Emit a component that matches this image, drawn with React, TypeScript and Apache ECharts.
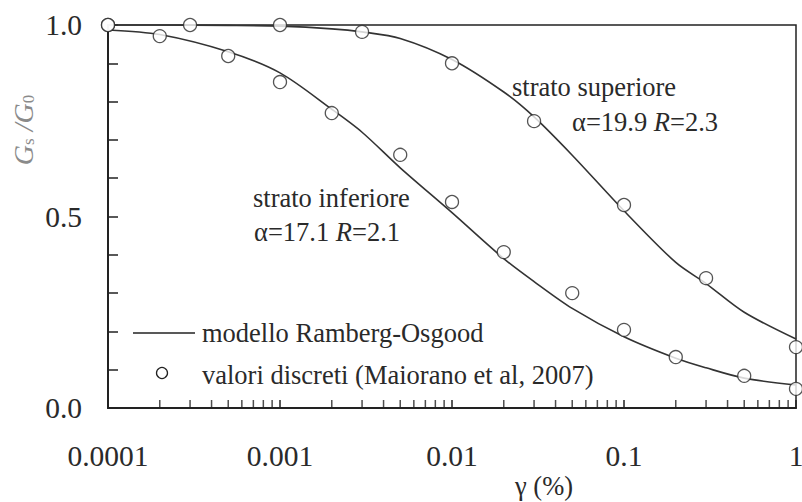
import React, { useEffect, useRef } from "react";
import * as echarts from "echarts";

// Discrete measured values (circles)
const supX = [0.0001, 0.0003, 0.001, 0.003, 0.01, 0.03, 0.1, 0.3, 1];
const supY = [1.0, 1.0, 1.0, 0.982, 0.9, 0.749, 0.53, 0.339, 0.159];
const infX = [0.0001, 0.0002, 0.0005, 0.001, 0.002, 0.005, 0.01, 0.02, 0.05, 0.1, 0.2, 0.5, 1];
const infY = [1.0, 0.971, 0.919, 0.851, 0.77, 0.661, 0.538, 0.407, 0.3, 0.204, 0.133, 0.084, 0.05];

// Ramberg-Osgood model curves
const curveX = [0.0001, 0.0002, 0.0005, 0.001, 0.002, 0.003, 0.005, 0.01, 0.02, 0.03, 0.05, 0.1, 0.2, 0.3, 0.5, 1];
const supCurve = [1.0, 1.0, 0.999, 0.997, 0.99, 0.982, 0.965, 0.91, 0.825, 0.76, 0.66, 0.515, 0.38, 0.325, 0.25, 0.18];
const infCurve = [0.987, 0.975, 0.93, 0.875, 0.78, 0.72, 0.627, 0.51, 0.39, 0.33, 0.26, 0.186, 0.13, 0.105, 0.078, 0.06];

// Axis ticks
const xTickLabels = ["0.0001", "0.001", "0.01", "0.1", "1"];
const xMinorTicks = [
  0.0002, 0.0003, 0.0004, 0.0005, 0.0006, 0.0007, 0.0008, 0.0009,
  0.002, 0.003, 0.004, 0.005, 0.006, 0.007, 0.008, 0.009,
  0.02, 0.03, 0.04, 0.05, 0.06, 0.07, 0.08, 0.09,
  0.2, 0.3, 0.4, 0.5, 0.6, 0.7, 0.8, 0.9,
];

const FONT = "'Liberation Serif', 'Times New Roman', serif";
const INK = "#2a2a2a";

const zip = (xs: number[], ys: number[]) => xs.map((x, i) => [x, ys[i]]);

export default function App() {
  const ref = useRef<HTMLDivElement>(null);
  useEffect(() => {
    if (!ref.current) return;
    const chart = echarts.init(ref.current, undefined, { renderer: "svg" });
    const circle = {
      type: "scatter",
      symbol: "circle",
      symbolSize: 13,
      clip: false,
      itemStyle: { color: "#fff", borderColor: INK, borderWidth: 1.3 },
      z: 3,
    };
    const line = {
      type: "line",
      smooth: 0.3,
      showSymbol: false,
      clip: false,
      lineStyle: { color: "#333", width: 1.6 },
      z: 2,
    };
    const richText = {
      n: { fontFamily: FONT, fontSize: 26.5, fill: INK },
      i: { fontFamily: FONT, fontSize: 26.5, fontStyle: "italic", fill: INK },
    };
    chart.setOption({
      animation: false,
      backgroundColor: "#fff",
      grid: {
        left: 108,
        right: 6,
        top: 25,
        bottom: 94,
        outerBoundsMode: "none",
        containLabel: false,
        show: true,
        borderColor: "#222",
        borderWidth: 1.5,
        backgroundColor: "transparent",
      },
      xAxis: {
        type: "log",
        logBase: 10,
        min: 0.0001,
        max: 1,
        axisLine: { show: true, lineStyle: { color: "#222", width: 2 } },
        axisTick: { show: true, inside: true, length: 8, lineStyle: { color: "#222", width: 1.5 } },
        splitLine: { show: false },
        axisLabel: {
          margin: 33,
          fontFamily: FONT,
          fontSize: 29.5,
          color: INK,
          formatter: (v: number) => xTickLabels[Math.round(Math.log10(v) + 4)] ?? "",
        },
      },
      yAxis: {
        type: "value",
        min: 0,
        max: 1,
        interval: 0.5,
        axisLine: { show: true, lineStyle: { color: "#222", width: 2 } },
        axisTick: { show: true, inside: true, length: 10, lineStyle: { color: "#222", width: 1.5 } },
        minorTick: { show: true, splitNumber: 5, length: 10, lineStyle: { color: "#222", width: 1.5 } },
        splitLine: { show: false },
        axisLabel: {
          margin: 26,
          fontFamily: FONT,
          fontSize: 29.5,
          color: INK,
          formatter: (v: number) => v.toFixed(1),
        },
      },
      graphic: [
        {
          type: "text",
          x: 22,
          y: 130,
          rotation: Math.PI / 2,
          silent: true,
          style: {
            text: "{g|G}{s|s}{g| /}{g|G}{s|0}",
            align: "center",
            verticalAlign: "middle",
            rich: {
              g: { fontFamily: FONT, fontStyle: "italic", fontSize: 28, fill: "#8a8a8a", lineHeight: 30, verticalAlign: "bottom" },
              s: { fontFamily: FONT, fontSize: 17, fill: "#8a8a8a", lineHeight: 30, verticalAlign: "bottom" },
            },
          },
        },
        { type: "text", x: 512, y: 87, style: { text: "strato superiore", font: `26.5px ${FONT}`, fill: INK, verticalAlign: "middle" } },
        { type: "text", x: 572, y: 122, style: { text: "{n|α=19.9 }{i|R}{n|=2.3}", verticalAlign: "middle", rich: richText } },
        { type: "text", x: 253, y: 198, style: { text: "strato inferiore", font: `26.5px ${FONT}`, fill: INK, verticalAlign: "middle" } },
        { type: "text", x: 254, y: 232, style: { text: "{n|α=17.1 }{i|R}{n|=2.1}", verticalAlign: "middle", rich: richText } },
        { type: "line", shape: { x1: 133, y1: 333, x2: 195, y2: 333 }, style: { stroke: "#222", lineWidth: 1.6 } },
        { type: "text", x: 202, y: 333, style: { text: "modello Ramberg-Osgood", font: `26.5px ${FONT}`, fill: INK, verticalAlign: "middle" } },
        { type: "circle", shape: { cx: 162, cy: 373, r: 5.5 }, style: { fill: "#fff", stroke: "#222", lineWidth: 1.3 } },
        { type: "text", x: 202, y: 375, style: { text: "valori discreti (Maiorano et al, 2007)", font: `26.5px ${FONT}`, fill: INK, verticalAlign: "middle" } },
        { type: "text", x: 544, y: 486, style: { text: "γ (%)", font: `26.5px ${FONT}`, fill: INK, align: "center", verticalAlign: "middle" } },
      ],
      series: [
        { ...line, name: "superiore modello", data: zip(curveX, supCurve) },
        { ...line, name: "inferiore modello", data: zip(curveX, infCurve) },
        { ...circle, name: "superiore", data: zip(supX, supY) },
        { ...circle, name: "inferiore", data: zip(infX, infY) },
        {
          type: "scatter",
          name: "minor ticks",
          data: xMinorTicks.map((x) => [x, 0]),
          symbol: "rect",
          symbolSize: [1.5, 8],
          symbolOffset: [0, -4],
          clip: false,
          itemStyle: { color: "#222" },
          silent: true,
          z: 1,
        },
      ],
    });
    return () => chart.dispose();
  }, []);
  return (
    <div
      ref={ref}
      style={{ position: "absolute", left: 0, top: 0, width: 802, height: 502, background: "#fff" }}
    />
  );
}
